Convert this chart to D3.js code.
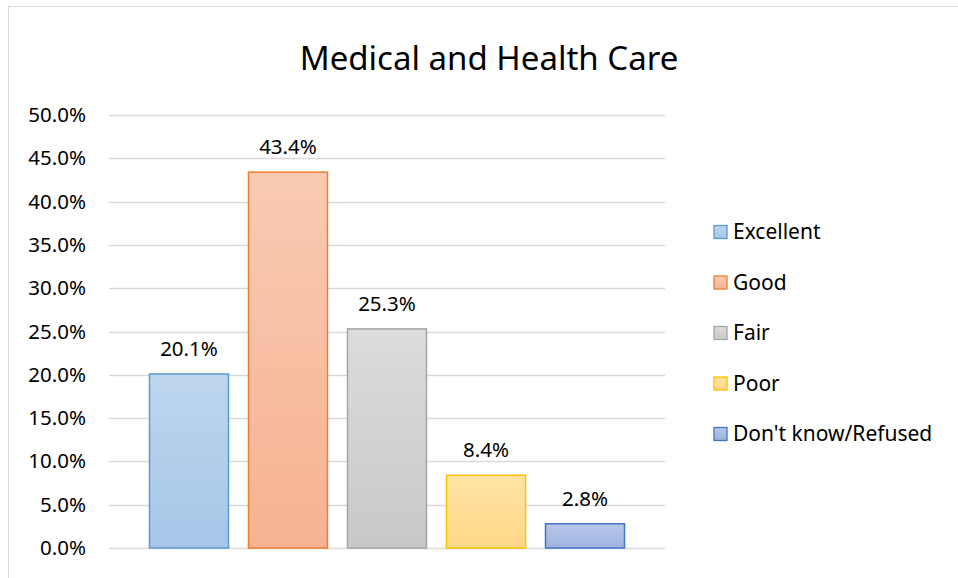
<!DOCTYPE html>
<html>
<head>
<meta charset="utf-8">
<script src="https://cdn.jsdelivr.net/npm/d3@7"></script>
<style>
  body { margin: 0; background: #fff; }
  svg text { font-family: "Noto Sans", "Open Sans", sans-serif; fill: #000; }
</style>
</head>
<body>
<svg id="chart" width="958" height="578"></svg>
<script>
const categories = ["Excellent", "Good", "Fair", "Poor", "Don't know/Refused"];
const values = [20.1, 43.4, 25.3, 8.4, 2.8];
const yTicks = [0, 5, 10, 15, 20, 25, 30, 35, 40, 45, 50];
const title = "Medical and Health Care";

// fill top, fill bottom, stroke
const palette = [
  ["#bed6ee", "#a6c6e8", "#5b9bd5"],
  ["#f8cab2", "#f7b292", "#ed7d31"],
  ["#dcdcdc", "#c8c8c8", "#a5a5a5"],
  ["#ffe3a3", "#ffd98a", "#ffc000"],
  ["#b7c7e8", "#9fb3e0", "#4472c4"]
];

const svg = d3.select("#chart");
const plotLeft = 109, plotRight = 665, plotTop = 115, plotBottom = 548;

// chart border
svg.append("rect")
  .attr("x", 8.5).attr("y", 6.5)
  .attr("width", 958).attr("height", 600)
  .attr("fill", "none")
  .attr("stroke", "#d9d9d9");

const defs = svg.append("defs");
palette.forEach((p, i) => {
  const g = defs.append("linearGradient")
    .attr("id", "grad" + i)
    .attr("x1", "0%").attr("x2", "0%")
    .attr("y1", "0%").attr("y2", "100%");
  g.append("stop").attr("offset", "0%").style("stop-color", p[0]);
  g.append("stop").attr("offset", "100%").style("stop-color", p[1]);
});

const y = d3.scaleLinear().domain([0, 50]).range([plotBottom, plotTop]);
const x = d3.scaleBand().domain(categories).range([plotLeft, plotRight])
  .paddingInner(0.192).paddingOuter(0.404);

// gridlines
svg.append("g").selectAll("line")
  .data(yTicks)
  .join("line")
  .attr("x1", plotLeft).attr("x2", plotRight)
  .attr("y1", d => Math.round(y(d)) + 0.5)
  .attr("y2", d => Math.round(y(d)) + 0.5)
  .attr("stroke", "#d9d9d9")
  .attr("stroke-width", 1.3);

// y axis labels
const yAxis = svg.append("g")
  .attr("transform", `translate(${plotLeft - 23},0)`)
  .call(d3.axisLeft(y).tickValues(yTicks).tickSize(0).tickPadding(0)
    .tickFormat(d => d.toFixed(1) + "%"));
yAxis.select(".domain").remove();
yAxis.selectAll("text").attr("font-size", 20.5).style("font-family", "'Noto Sans', sans-serif");

// bars
svg.append("g").selectAll("rect")
  .data(values)
  .join("rect")
  .attr("x", (d, i) => x(categories[i]) + 0.5)
  .attr("y", d => y(d))
  .attr("width", x.bandwidth() - 1)
  .attr("height", d => plotBottom - y(d))
  .attr("fill", (d, i) => `url(#grad${i})`)
  .attr("stroke", (d, i) => palette[i][2])
  .attr("stroke-width", 1.5);

// data labels
svg.append("g").selectAll("text")
  .data(values)
  .join("text")
  .attr("x", (d, i) => x(categories[i]) + x.bandwidth() / 2)
  .attr("y", d => y(d) - 18)
  .attr("text-anchor", "middle")
  .attr("font-size", 20.5)
  .text(d => d.toFixed(1) + "%");

// title
svg.append("text")
  .attr("x", 489).attr("y", 70)
  .attr("text-anchor", "middle")
  .attr("font-size", 33)
  .text(title);

// legend
const legend = svg.append("g").selectAll("g")
  .data(categories)
  .join("g")
  .attr("transform", (d, i) => `translate(714,${232 + i * 50.5})`);
legend.append("rect")
  .attr("x", 0).attr("y", -6.5)
  .attr("width", 13).attr("height", 13)
  .attr("fill", (d, i) => `url(#grad${i})`)
  .attr("stroke", (d, i) => palette[i][2])
  .attr("stroke-width", 1.3);
legend.append("text")
  .attr("x", 19).attr("y", 0)
  .attr("dy", "0.35em")
  .attr("font-size", 21)
  .text(d => d);
</script>
</body>
</html>
